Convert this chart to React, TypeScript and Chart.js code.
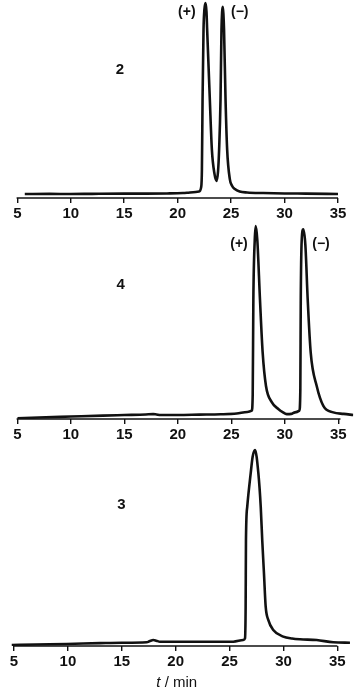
import { useEffect, useRef } from "react";
import { Chart, registerables } from "chart.js";

Chart.register(...registerables);

// ---- data ----
const X_TICKS = [5, 10, 15, 20, 25, 30, 35];

// compound 2
const P1_TIME = [5.7, 8, 10, 12, 15, 17, 19, 20.5, 21.0, 21.45, 22.0, 22.2, 22.27, 22.33, 22.42, 22.5, 22.61, 22.7, 22.76, 23.01, 23.2, 23.45, 23.64, 23.78, 23.88, 24.01, 24.1, 24.16, 24.22, 24.28, 24.34, 24.48, 24.63, 24.88, 25.1, 25.35, 25.8, 26.5, 28, 30, 32, 35];
const P1_SIGNAL = [0, 0.1, 0, 0.1, 0.2, 0.2, 0.3, 0.5, 0.7, 0.9, 1.3, 3.6, 13, 49.5, 85.9, 96.4, 100, 95.3, 85.9, 49.5, 23.4, 10.4, 6.9, 12, 23.4, 49.5, 85.9, 95.3, 98, 94.3, 85.9, 49.5, 23.4, 7.8, 4.2, 2.6, 1.3, 0.8, 0.5, 0.3, 0.2, 0];

// compound 4
const P2_TIME = [5, 7, 10, 13, 15, 17, 17.7, 18.0, 18.4, 20, 22, 24, 25.5, 26.5, 26.91, 27.0, 27.06, 27.19, 27.28, 27.43, 27.68, 27.93, 28.24, 28.78, 29.39, 29.8, 30.18, 30.6, 30.95, 31.36, 31.45, 31.49, 31.58, 31.73, 31.92, 32.14, 32.42, 32.98, 33.6, 34.53, 35.5, 36.4];
const P2_SIGNAL = [-1.7, -1.3, -0.8, -0.3, 0, 0.3, 0.5, 0.3, 0, 0, 0.2, 0.4, 0.8, 1.6, 2.3, 11, 61, 92.6, 100, 92.6, 61, 33, 15.4, 6.8, 3.2, 1.5, 0.5, 0.6, 1.4, 2.3, 13.7, 61, 92.6, 98.3, 90, 61, 33, 15.4, 4.9, 1.4, 0.6, 0];

// compound 3
const P3_TIME = [4.79, 7, 9.89, 13, 15, 17.31, 17.6, 17.92, 18.2, 18.54, 20.09, 23, 25.34, 26.27, 26.43, 26.49, 26.52, 26.64, 26.96, 27.14, 27.36, 27.67, 27.89, 28.03, 28.19, 28.35, 28.59, 29.05, 29.98, 30.8, 31.53, 33.08, 34.62, 36.17];
const P3_SIGNAL = [-1.56, -1.3, -1.0, -0.6, -0.4, -0.16, 0.5, 1.04, 0.7, 0.16, 0.16, 0.16, 0.16, 1.04, 1.9, 18.4, 53, 70.5, 87.9, 96.5, 100, 87.9, 70.5, 53, 35.8, 18.4, 11.5, 6.25, 2.8, 1.8, 1.4, 1.04, -0.16, -0.36];

const X_TITLE_ITALIC = "t";
const X_TITLE_REST = " / min";

type Note = { text: string; t: number; v: number; size: number };

type Panel = {
  time: number[];
  signal: number[];
  top: number;
  height: number;
  padding: { left: number; right: number; top: number; bottom: number };
  xMin: number;
  xMax: number;
  axisEnd: number;
  yMin: number;
  yMax: number;
  notes: Note[];
  title: boolean;
};

const FONT = '"Liberation Sans", Arial, sans-serif';

const PANELS: Panel[] = [
  {
    time: P1_TIME,
    signal: P1_SIGNAL,
    top: 0,
    height: 224,
    padding: { left: 17.3, right: 22, top: 0, bottom: 0 },
    xMin: 5,
    xMax: 35,
    axisEnd: 35,
    yMin: -2.08,
    yMax: 101.56,
    notes: [
      { text: "2", t: 14.6, v: 64.8, size: 15 },
      { text: "(+)", t: 20.86, v: 95.3, size: 14 },
      { text: "(\u2212)", t: 25.81, v: 95.3, size: 14 },
    ],
    title: false,
  },
  {
    time: P2_TIME,
    signal: P2_SIGNAL,
    top: 220,
    height: 225,
    padding: { left: 17.3, right: 6.7, top: 0, bottom: 0 },
    xMin: 5,
    xMax: 36.4,
    axisEnd: 35.2,
    yMin: -2.1,
    yMax: 103.2,
    notes: [
      { text: "4", t: 14.65, v: 68.9, size: 15 },
      { text: "(+)", t: 25.72, v: 90.5, size: 14 },
      { text: "(\u2212)", t: 33.38, v: 90.5, size: 14 },
    ],
    title: false,
  },
  {
    time: P3_TIME,
    signal: P3_SIGNAL,
    top: 440,
    height: 253,
    padding: { left: 10.77, right: 9.7, top: 0, bottom: 21 },
    xMin: 4.7,
    xMax: 36.2,
    axisEnd: 35,
    yMin: -2.08,
    yMax: 105.2,
    notes: [{ text: "3", t: 14.97, v: 71.4, size: 15 }],
    title: true,
  },
];

function PanelChart({ panel }: { panel: Panel }) {
  const ref = useRef<HTMLCanvasElement | null>(null);

  useEffect(() => {
    if (!ref.current) return;

    const decor = {
      id: "decor",
      beforeDatasetsDraw(chart: any) {
        const ctx = chart.ctx;
        const xs = chart.scales.x;
        const y = chart.chartArea.bottom;
        ctx.save();
        ctx.strokeStyle = "#111";
        ctx.lineWidth = 1.6;
        ctx.beginPath();
        ctx.moveTo(xs.getPixelForValue(X_TICKS[0]) - 0.7, y);
        ctx.lineTo(xs.getPixelForValue(panel.axisEnd), y);
        ctx.stroke();
        ctx.restore();
      },
      afterDraw(chart: any) {
        const ctx = chart.ctx;
        const xs = chart.scales.x;
        const ys = chart.scales.y;
        ctx.save();
        ctx.fillStyle = "#111";
        ctx.textAlign = "center";
        ctx.textBaseline = "middle";
        for (const n of panel.notes) {
          ctx.font = `bold ${n.size}px ${FONT}`;
          ctx.fillText(n.text, xs.getPixelForValue(n.t), ys.getPixelForValue(n.v));
        }
        if (panel.title) {
          const cx = xs.getPixelForValue(20.1);
          const cy = chart.chartArea.bottom + 37;
          ctx.font = `italic 15px ${FONT}`;
          const w1 = ctx.measureText(X_TITLE_ITALIC).width;
          ctx.font = `15px ${FONT}`;
          const w2 = ctx.measureText(X_TITLE_REST).width;
          const x0 = cx - (w1 + w2) / 2;
          ctx.textAlign = "left";
          ctx.font = `italic 15px ${FONT}`;
          ctx.fillText(X_TITLE_ITALIC, x0, cy);
          ctx.font = `15px ${FONT}`;
          ctx.fillText(X_TITLE_REST, x0 + w1, cy);
        }
        ctx.restore();
      },
    };

    const chart = new Chart(ref.current, {
      type: "line",
      data: {
        datasets: [
          {
            data: panel.time.map((t, i) => ({ x: t, y: panel.signal[i] })),
            borderColor: "#111",
            borderWidth: 2.6,
            pointRadius: 0,
            fill: false,
            cubicInterpolationMode: "monotone",
          },
        ],
      },
      options: {
        responsive: false,
        animation: false,
        layout: { padding: panel.padding },
        plugins: {
          legend: { display: false },
          tooltip: { enabled: false },
          title: { display: false },
        },
        scales: {
          x: {
            type: "linear",
            min: panel.xMin,
            max: panel.xMax,
            afterBuildTicks: (scale: any) => {
              scale.ticks = X_TICKS.map((v) => ({ value: v }));
            },
            border: { display: false },
            grid: {
              display: true,
              drawOnChartArea: false,
              drawTicks: true,
              tickLength: 5,
              color: "#111",
              lineWidth: 1.4,
            },
            ticks: {
              color: "#111",
              padding: 3,
              maxRotation: 0,
              autoSkip: false,
              font: { family: FONT, size: 15, weight: "bold", lineHeight: 1 },
              callback: (v: any) => String(v),
            },
          },
          y: {
            type: "linear",
            display: false,
            min: panel.yMin,
            max: panel.yMax,
          },
        },
      },
      plugins: [decor],
    } as any);

    return () => chart.destroy();
  }, [panel]);

  return (
    <canvas
      ref={ref}
      width={360}
      height={panel.height}
      style={{ position: "absolute", left: 0, top: panel.top, width: 360, height: panel.height }}
    />
  );
}

export default function App() {
  return (
    <div style={{ position: "absolute", left: 0, top: 0, width: 360, height: 693, background: "#fff" }}>
      {PANELS.map((p, i) => (
        <PanelChart key={i} panel={p} />
      ))}
    </div>
  );
}
